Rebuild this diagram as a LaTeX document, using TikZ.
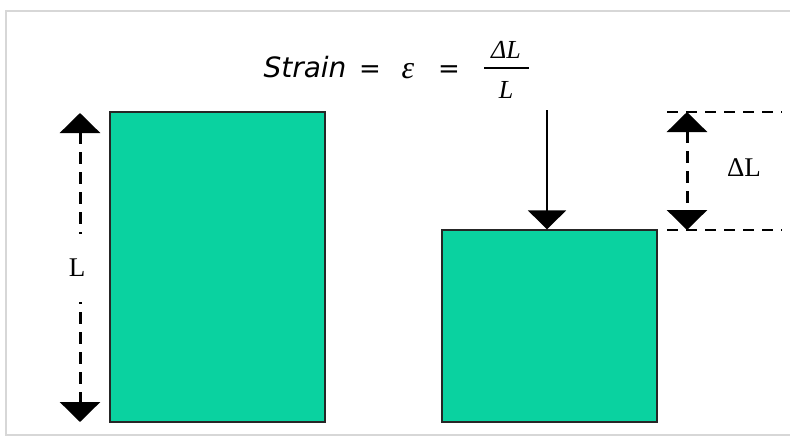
\documentclass[tikz,border=0pt]{standalone}
\usepackage{fontspec}
\setsansfont{DejaVu Sans}
\newfontfamily\libserif{Liberation Serif}
\usetikzlibrary{arrows.meta}
\definecolor{bar}{RGB}{10,210,160}
\definecolor{framegray}{RGB}{215,215,215}
\tikzset{
  block/.style={draw=black!85, line width=1.3pt, fill=bar, inner sep=0pt, minimum width=215pt},
  bigtip/.style={-{Triangle[width=38pt,length=19pt]}},
  dimline/.style={line width=3pt, dash pattern=on 12pt off 8pt, {Triangle[width=40pt,length=20pt]}-{Triangle[width=40pt,length=20pt]}},
  guide/.style={line width=1.6pt, dash pattern=on 11pt off 8pt},
  lbl/.style={font=\libserif\fontsize{27}{27}\selectfont, inner sep=2pt},
  eqtext/.style={font=\sffamily\itshape\fontsize{28}{28}\selectfont, inner sep=0pt, anchor=base},
  eqsign/.style={font=\sffamily\fontsize{26}{26}\selectfont, inner sep=0pt, anchor=base},
  fracpart/.style={font=\libserif\itshape\fontsize{26}{26}\selectfont, inner sep=0pt, anchor=base}
}
\begin{document}
\begin{tikzpicture}[x=1pt,y=-1pt]
\useasboundingbox (0,0) rectangle (790,437);
% frame
\draw[framegray, line width=1.2pt] (790,11) -- (6,11) -- (6,435) -- (790,435);
% blocks
\node[block, minimum height=310pt] (left) at (217.5,267) {};
\node[block, minimum height=192pt] (right) at (549.5,326) {};
% formula
\node[eqtext] (strain) at (305,77) {Strain};
\node[eqsign] (eq1) at (370,77) {=};
\node[font=\libserif\itshape\fontsize{32}{32}\selectfont, inner sep=0pt, anchor=base] (eps) at (408,78) {ε};
\node[eqsign] (eq2) at (449,77) {=};
\node[fracpart] (num) at (506,58) {ΔL};
\node[fracpart] (den) at (506,98) {L};
\coordinate (barl) at (484,68);
\coordinate (barr) at (529,68);
\draw[line width=1.5pt] (barl) -- (barr);
% load arrow
\coordinate (loadtop) at (547,110);
\draw[line width=2.2pt, bigtip] (loadtop) -- (loadtop |- right.north);
% L dimension
\coordinate (ltop) at (80,113);
\coordinate (lbot) at (80,422);
\draw[dimline] (ltop) -- (lbot);
\node[lbl, fill=white, minimum height=68pt, minimum width=30pt] (Llabel) at (77,268) {L};
% delta L dimension
\coordinate (dtop) at (687,112);
\coordinate (dbot) at (687,230);
\coordinate (gtopl) at (667,112);
\coordinate (gtopr) at (782,112);
\coordinate (gbotl) at (667,230);
\coordinate (gbotr) at (782,230);
\draw[guide] (gtopl) -- (gtopr);
\draw[guide] (gbotl) -- (gbotr);
\draw[dimline] (dtop) -- (dbot);
\node[lbl] (dL) at (744,168) {ΔL};
\end{tikzpicture}
\end{document}
